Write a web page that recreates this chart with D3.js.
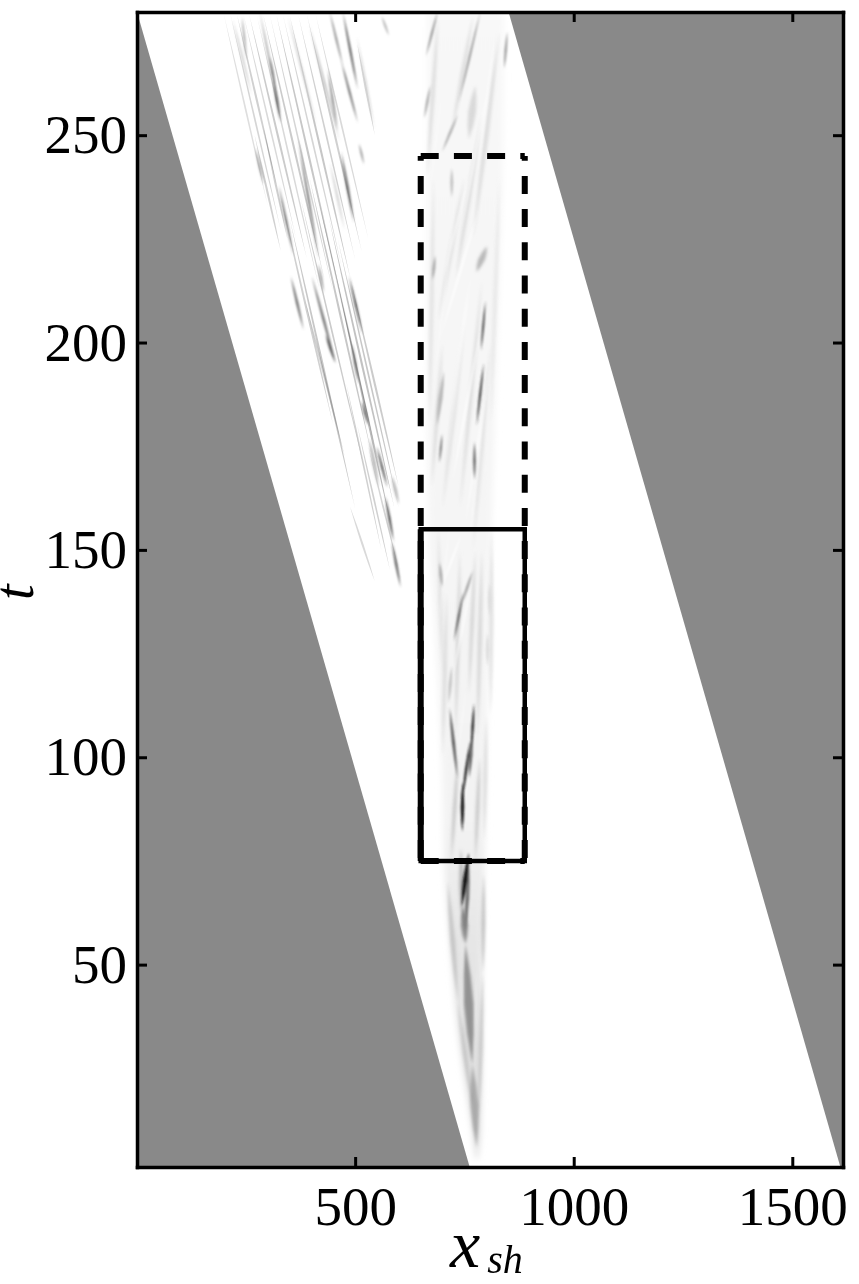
<!DOCTYPE html>
<html>
<head>
<meta charset="utf-8">
<script src="https://cdn.jsdelivr.net/npm/d3@7"></script>
<style>
html,body{margin:0;padding:0;background:#fff;overflow:hidden}
svg{display:block}
text{font-family:"Liberation Serif",serif;fill:#000}
</style>
</head>
<body>
<script>
// ---------- Data ----------
const xDomain = [1, 1616];
const tDomain = [1.2, 279.7];
const xTicks = [500, 1000, 1500];
const tTicks = [50, 100, 150, 200, 250];
const edgeT = [1.2, 279.7];
const leftEdgeX = [762, 1];
const rightEdgeX = [1610, 851];
const boxX = [650, 888];
const solidBoxT = [75, 155];
const dashedBoxT = [75, 245];

// Envelope of the central plume
const plumeT = [3, 10, 30, 54, 74, 92, 136, 155, 200, 245, 279.7];
const plumeLeft = [776, 768, 740, 718, 704, 700, 680, 668, 665, 665, 665];
const plumeRight = [780, 787, 790, 790, 796, 800, 806, 812, 825, 838, 840];

// Rows: x start, t start, x end, t end, intensity (0-1), spread in x
const leftBandFaint = [
  [200,279,300,233,.14,4],[215,279,330,227,.18,4],[230,279,320,238,.2,5],[245,279,365,225,.16,4],
  [258,279,390,220,.22,5],[275,279,420,212,.16,4],[290,279,430,215,.22,5],[305,279,450,212,.18,4],
  [320,279,470,210,.24,5],[335,279,470,218,.18,4],[350,279,490,215,.24,5],[370,279,500,220,.2,4],
  [390,279,515,222,.2,5],[410,279,530,225,.16,4],[330,235,450,180,.2,5],[350,230,500,160,.24,5],
  [375,235,520,170,.22,4],[395,240,540,172,.24,5],[415,235,560,168,.24,4],[440,230,590,160,.26,5],
  [460,225,600,160,.24,4],[490,215,600,165,.22,5],[480,190,560,150,.2,4],[505,180,580,145,.2,4],
  [530,175,600,145,.18,4],[458,215.3,586,154.2,.3,5],[488,160.5,545,142.4,.16,5],
  [385,210.4,476,172.6,.2,5],[270,250,330,222,.2,5],[290,252,345,225,.2,5],[505,272,545,250,.18,5]
];
const leftBandStreaks = [
  [241,278.7,252,268,.35,5],[282,279.7,328,255.5,.35,5],[312,264,330,253,.65,6],
  [305,269,318,261,.4,6],[220,278,264,259.4,.2,5],[346,278.7,412,252.2,.2,5],
  [396,276.3,465,248.3,.28,5],[442,279.7,472,266.6,.45,5],[468,268,506,253,.6,5],
  [472,279.7,506,261,.7,5],[437,266,460,251,.5,5],[504,273.9,545,251.4,.2,4],
  [561,278.7,577,274,.28,6],[272,247,291,238,.45,5],[325,238,359,221,.6,5],
  [370,249,417,220,.6,5],[468,246,497,229,.65,6],[442,243.5,476,227,.2,5],
  [416,219,428,212,.4,6],[509,248,520,243,.4,5],
  [353,216,382,203,.6,6],[401,216,455,195,.6,6],[432,202,455,195,.65,6],
  [486,216,517,202,.75,5],[492,200,508,190,.55,6],[515,186,530,180,.65,6],
  [549,175,574,165,.95,4],[532,177,554,165,.28,9],[584,168,600,161,.28,8],
  [569,163,588,152,.7,6],[584,152,604,141,.65,6]
];

const plumeLobes = [
  [778,6,768,26,.36,18],[768,26,752,55,.46,22],[752,55,748,64,.5,16],[782,12,792,48,.22,10],
  [792,48,794,72,.24,10],[768,16,735,41,.24,10],[735,41,712,70,.24,12],[745,60,742,78,.3,12],
  [720,75,735,100,.22,9],[775,75,785,100,.22,9],[795,80,800,110,.14,9],[730,105,740,150,.17,9],
  [780,105,790,150,.16,10],[760,115,775,150,.17,9],[810,110,812,155,.12,11],[700,100,710,140,.14,9],
  [700,120,690,155,.12,9],[675,165,700,200,.14,9],[700,160,750,205,.12,11],[740,160,790,215,.14,9],
  [770,150,810,200,.12,9],[690,205,750,240,.12,11],[730,215,790,255,.14,11],[770,225,830,275,.14,11],
  [810,180,830,240,.1,9],[670,180,680,240,.12,9],[665,240,690,279,.14,9],[720,250,770,279,.14,9],
  [760,249,775,262,.16,18],[778,217,801,223.2,.3,16]
];

const plumeStreaks = [
  [744,64,760,77,1,11],[752,58,761,74,.6,9],[745,82,746,94,1,8],
  [745,90,763,104,.95,6],[772,113,766,102,.9,6],[768,106,761,95,.65,8],
  [734,95,716,112,.7,7],[726,128,748,140,.7,5],[744,137,769,145,.4,6],
  [699,141,693,147,.35,7],[803,122,803,130,.14,9],[808,134,808,142,.14,9],
  [721,122,714,113,.25,7],[773,167,773,176,.65,6],[778,180,794,195,.85,5],
  [788,198,798,210,.75,5],[693,171,699,178,.55,5],[687,180,703,193,.3,10],
  [677,215,683,221,.35,7],[721,235,721,242,.25,7],[689,280,662,269,.45,5],
  [672,262,658,254,.35,6],[787,280,737,258,.42,5],[841,266,848,275,.4,6],
  [735,255,699,246,.35,6]
];

const ridgeStreaks = [
  [694,200.8,785,232.9,.75,6],[720,165,790,205,.75,6],[750,155,810,195,.65,6],
  [700,215,760,240,.65,5],[740,225,800,260,.75,5],[780,240,820,275,.65,5],
  [670,235,700,262,.45,4],[698,141,744,154,.85,5],[723,119,767,143,.75,5],
  [735,100,755,118,.55,3],[746,84,767,104,.9,2],[690,130,720,160,.45,4],
  [760,150,800,190,.55,4],[715,180,760,215,.55,5],[742,30,748,60,.45,3],
  [772,25,778,50,.75,2],[708,170,770,220,.6,4],[680,190,730,235,.5,4]
];

// ---------- Drawing ----------
const W = 859, H = 1284;
const x = d3.scaleLinear().domain(xDomain).range([137, 843]);
const t = d3.scaleLinear().domain(tDomain).range([1167, 12]);
const ink = d3.scaleLinear().domain([0, 1]).range(["#ffffff", "#141414"]);

const svg = d3.select("body").append("svg").attr("width", W).attr("height", H);
const defs = svg.append("defs");
defs.append("clipPath").attr("id", "plot").append("rect")
  .attr("x", x(xDomain[0])).attr("y", t(tDomain[1]))
  .attr("width", x(xDomain[1]) - x(xDomain[0])).attr("height", t(tDomain[0]) - t(tDomain[1]));
[["soft", 3], ["lobe", 1.6], ["mid", 1], ["fine", .8], ["hair", .55]].forEach(([id, s]) =>
  defs.append("filter").attr("id", id)
    .attr("x", "-50%").attr("y", "-20%").attr("width", "200%").attr("height", "140%")
    .append("feGaussianBlur").attr("stdDeviation", s));
const grad = defs.append("linearGradient").attr("id", "washFill").attr("gradientUnits", "userSpaceOnUse")
  .attr("x1", 0).attr("x2", 0).attr("y1", t(tDomain[0])).attr("y2", t(tDomain[1]));
grad.selectAll("stop").data([[0, "#dcdcdc"], [.2, "#e6e6e6"], [.3, "#f3f3f3"], [1, "#f8f8f8"]]).join("stop")
  .attr("offset", d => d[0]).attr("stop-color", d => d[1]);

const plot = svg.append("g").attr("clip-path", "url(#plot)");
plot.append("rect").attr("x", x(xDomain[0])).attr("y", t(tDomain[1]))
  .attr("width", x(xDomain[1]) - x(xDomain[0])).attr("height", t(tDomain[0]) - t(tDomain[1]))
  .attr("fill", "#fff");

// Plume wash
const wash = d3.area().y(d => t(d)).x0((d, i) => x(plumeLeft[i])).x1((d, i) => x(plumeRight[i]))
  .curve(d3.curveMonotoneY);
plot.append("path").attr("d", wash(plumeT)).attr("fill", "url(#washFill)").attr("filter", "url(#soft)");

// Spindle-shaped streak built from the scales
const lens = d => {
  const [x0, t0, x1, t1, , s] = d;
  const a = [x(x0), t(t0)], b = [x(x1), t(t1)];
  const half = (x(x0 + s) - x(x0)) / 2;
  const m = [(a[0] + b[0]) / 2, (a[1] + b[1]) / 2];
  const q = [(a[0] + m[0]) / 2, (a[1] + m[1]) / 2], r = [(b[0] + m[0]) / 2, (b[1] + m[1]) / 2];
  return d3.line().curve(d3.curveLinearClosed)([
    a, [q[0] - half * .7, q[1]], [m[0] - half, m[1]], [r[0] - half * .7, r[1]],
    b, [r[0] + half * .7, r[1]], [m[0] + half, m[1]], [q[0] + half * .7, q[1]]
  ]);
};
const layer = (rows, filter, fill, opacityOf) => {
  const g = plot.append("g").attr("filter", `url(#${filter})`).style("isolation", "isolate");
  g.selectAll("path").data(rows).join("path")
    .attr("d", lens).attr("fill", fill)
    .attr("opacity", opacityOf || 1)
    .style("mix-blend-mode", opacityOf ? "normal" : "multiply");
};
layer(plumeLobes, "lobe", d => ink(d[4]));
layer(ridgeStreaks, "mid", "#fff", d => d[4]);
layer(leftBandFaint, "hair", d => ink(d[4]));
layer(leftBandStreaks, "fine", d => ink(d[4]));
layer(plumeStreaks, "fine", d => ink(d[4]));

// Grey wedges outside the sheared domain
const wedge = d3.line().x(d => x(d[0])).y(d => t(d[1]));
plot.append("path").attr("fill", "#898989").attr("d", wedge([
  [leftEdgeX[1], edgeT[1]], [leftEdgeX[0], edgeT[0]], [xDomain[0], edgeT[0]]
]) + "Z");
plot.append("path").attr("fill", "#898989").attr("d", wedge([
  [rightEdgeX[1], edgeT[1]], [rightEdgeX[0], edgeT[0]], [xDomain[1], edgeT[0]], [xDomain[1], edgeT[1]]
]) + "Z");

// Boxes
const dashSides = [
  { p: [boxX[0], dashedBoxT[1]], q: [boxX[1], dashedBoxT[1]], off: 0 },
  { p: [boxX[0], dashedBoxT[0]], q: [boxX[1], dashedBoxT[0]], off: 0 },
  { p: [boxX[0], dashedBoxT[1]], q: [boxX[0], dashedBoxT[0]], off: 13.2 },
  { p: [boxX[1], dashedBoxT[1]], q: [boxX[1], dashedBoxT[0]], off: 13.2 }
];
svg.append("path").attr("fill", "none").attr("stroke", "#000").attr("stroke-width", 4.5)
  .attr("d", wedge([
    [boxX[0], solidBoxT[1]], [boxX[1], solidBoxT[1]], [boxX[1], solidBoxT[0]],
    [boxX[0], solidBoxT[0]]
  ]) + "Z");
svg.selectAll(".dash").data(dashSides).join("path").attr("class", "dash")
  .attr("d", d => wedge([d.p, d.q])).attr("fill", "none").attr("stroke", "#000")
  .attr("stroke-width", 6).attr("stroke-dasharray", "18 15.2")
  .attr("stroke-dashoffset", d => d.off);
svg.append("path").attr("fill", "none").attr("stroke", "#000").attr("stroke-width", 6)
  .attr("d", wedge([[boxX[0], solidBoxT[1]], [boxX[0], solidBoxT[0]]]));

// Axes: ticks point inward on all four sides
const styleAxis = g => {
  g.selectAll("path.domain").attr("stroke", "#000").attr("stroke-width", 3.5).attr("stroke-linecap", "square");
  g.selectAll(".tick line").attr("stroke", "#000").attr("stroke-width", 3);
  g.selectAll(".tick text").attr("font-family", "Liberation Serif").attr("font-size", 55).attr("fill", "#000");
};
const bottom = svg.append("g").attr("transform", `translate(0,${t(tDomain[0])})`)
  .call(d3.axisBottom(x).tickValues(xTicks).tickSizeInner(-10).tickSizeOuter(0).tickPadding(19).tickFormat(d3.format("d")));
const top_ = svg.append("g").attr("transform", `translate(0,${t(tDomain[1])})`)
  .call(d3.axisTop(x).tickValues(xTicks).tickSizeInner(-10).tickSizeOuter(0).tickFormat(""));
const left = svg.append("g").attr("transform", `translate(${x(xDomain[0])},0)`)
  .call(d3.axisLeft(t).tickValues(tTicks).tickSizeInner(-10).tickSizeOuter(0).tickPadding(10).tickFormat(d3.format("d")));
const right = svg.append("g").attr("transform", `translate(${x(xDomain[1])},0)`)
  .call(d3.axisRight(t).tickValues(tTicks).tickSizeInner(-10).tickSizeOuter(0).tickFormat(""));
[bottom, top_, left, right].forEach(styleAxis);

// Axis titles
const xl = svg.append("text").attr("x", 450).attr("y", 1267)
  .attr("font-style", "italic").attr("font-size", 68);
xl.append("tspan").text("x");
xl.append("tspan").attr("dx", 7).attr("dy", 6).attr("font-size", 40).text("sh");
svg.append("text").attr("transform", "translate(33,600) rotate(-90)")
  .attr("font-style", "italic").attr("font-size", 56).text("t");
</script>
</body>
</html>
